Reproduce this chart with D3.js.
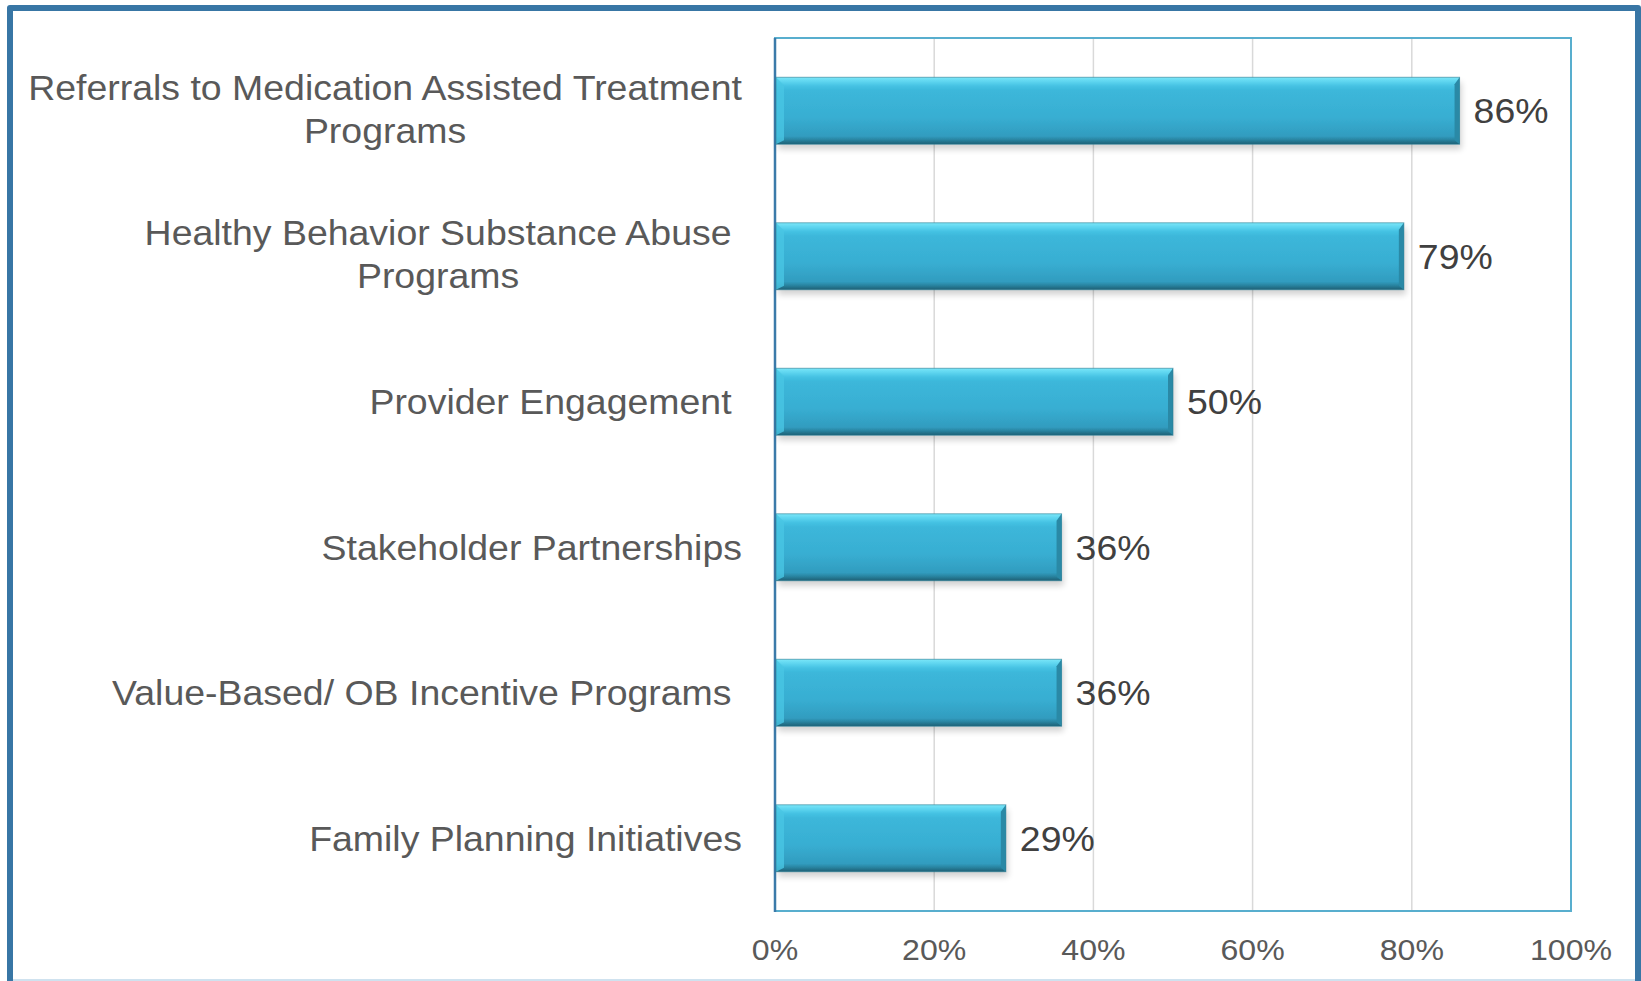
<!DOCTYPE html>
<html><head><meta charset="utf-8">
<script src="https://cdn.jsdelivr.net/npm/d3@7"></script>
<style>
html,body{margin:0;padding:0;background:#fff;}
svg text{font-family:"Liberation Sans",Arial,sans-serif;white-space:pre;}
</style></head>
<body><svg id="c" width="1641" height="981"></svg>
<script>
const categories = [
  ["Referrals to Medication Assisted Treatment", "Programs"],
  ["Healthy Behavior Substance Abuse ", "Programs "],
  ["Provider Engagement "],
  ["Stakeholder Partnerships"],
  ["Value-Based/ OB Incentive Programs "],
  ["Family Planning Initiatives"]
];
const values = [0.86, 0.79, 0.50, 0.36, 0.36, 0.29];
const valueLabels = ["86%", "79%", "50%", "36%", "36%", "29%"];
const ticks = [0, 0.2, 0.4, 0.6, 0.8, 1.0];
const tickLabels = ["0%", "20%", "40%", "60%", "80%", "100%"];

const SX = 1.07; // horizontal text stretch seen in the reference
const svg = d3.select("#c");
const L = 775, R = 1571, T = 38, B = 911;
const x = d3.scaleLinear().domain([0, 1]).range([L, R]);
const y = d3.scaleBand().domain(d3.range(categories.length)).range([T, B]).paddingInner(0.54).paddingOuter(0.27);

// outer frame
svg.append("path").attr("d", `M10,990 L10,8 L1638,8 L1638,990`).attr("fill","none").attr("stroke","#3876a5").attr("stroke-width",6).attr("stroke-linejoin","round");
svg.append("line").attr("x1",13).attr("x2",1635).attr("y1",980).attr("y2",980).attr("stroke","#cfe2ef").attr("stroke-width",2);

const defs = svg.append("defs");
const g = defs.append("linearGradient").attr("id","barg").attr("x1",0).attr("x2",0).attr("y1",0).attr("y2",1);
[[0,"#7be6f8"],[0.06,"#5fd6f0"],[0.13,"#45c2e3"],[0.2,"#3cb7da"],[0.6,"#38aed2"],[0.88,"#319cbf"],[0.93,"#2a86a3"],[1,"#1d5f74"]]
  .forEach(([o,c])=>g.append("stop").attr("offset",o).attr("stop-color",c));
const f = defs.append("filter").attr("id","sh").attr("x","-5%").attr("y","-20%").attr("width","110%").attr("height","160%");
f.append("feGaussianBlur").attr("in","SourceAlpha").attr("stdDeviation",3);
f.append("feOffset").attr("dx",2).attr("dy",5).attr("result","b");
f.append("feComponentTransfer").append("feFuncA").attr("type","linear").attr("slope",0.18);
const fm = f.append("feMerge"); fm.append("feMergeNode"); fm.append("feMergeNode").attr("in","SourceGraphic");

// gridlines
svg.append("g").selectAll("line").data(ticks.slice(1,-1)).join("line")
  .attr("x1",d=>x(d)).attr("x2",d=>x(d)).attr("y1",T).attr("y2",B)
  .attr("stroke","#d9d9d9").attr("stroke-width",1.5);

// plot border
svg.append("rect").attr("x",L).attr("y",T).attr("width",R-L).attr("height",B-T)
  .attr("fill","none").attr("stroke","#58aece").attr("stroke-width",2);
svg.append("line").attr("x1",L).attr("x2",L).attr("y1",T).attr("y2",B+1).attr("stroke","#3b7aa9").attr("stroke-width",2.5);

// bars
const bars = svg.append("g").selectAll("g").data(values).join("g");
bars.append("rect").attr("x",L+1).attr("y",(d,i)=>y(i)).attr("width",d=>x(d)-L-1).attr("height",y.bandwidth())
  .attr("fill","url(#barg)").attr("filter","url(#sh)");
bars.append("path").attr("d",(d,i)=>{const y0=y(i),h=y.bandwidth(),x0=L+1;return `M${x0},${y0} L${x0+8},${y0+8} L${x0+8},${y0+h-4} L${x0},${y0+h} Z`;})
  .attr("fill","#49c5e4").attr("opacity",0.8);
bars.append("path").attr("d",(d,i)=>{const y0=y(i),h=y.bandwidth(),x1=x(d);return `M${x1},${y0} L${x1-5},${y0+7} L${x1-5},${y0+h-4} L${x1},${y0+h} Z`;})
  .attr("fill","#2a89a6");
bars.append("rect").attr("x",L+1).attr("y",(d,i)=>y(i)).attr("width",d=>x(d)-L-1).attr("height",y.bandwidth())
  .attr("fill","none").attr("stroke","#2a7d95").attr("stroke-width",1).attr("stroke-opacity",0.6);

// value labels
svg.append("g").selectAll("text").data(values).join("text")
  .attr("transform",(d,i)=>`translate(${x(d)+14},${y(i)+y.bandwidth()/2}) scale(${SX},1)`).attr("dy","0.36em")
  .attr("font-size",35).attr("fill","#404040").text((d,i)=>valueLabels[i]);

// category labels
const labelRight = 742, lineH = 43;
categories.forEach((lines,i)=>{
  const cy = y(i)+y.bandwidth()/2 - (lines.length>1?2:0);
  const grp = svg.append("g");
  const ts = grp.selectAll("text").data(lines).join("text")
    .attr("font-size",35).attr("fill","#595959").attr("text-anchor","middle").attr("dy","0.36em").text(d=>d);
  let maxW = 0; ts.each(function(){maxW=Math.max(maxW,this.getComputedTextLength()*SX);});
  ts.attr("transform",(d,j)=>`translate(${labelRight - maxW/2},${cy + (j-(lines.length-1)/2)*lineH}) scale(${SX},1)`);
});

// tick labels
svg.append("g").selectAll("text").data(ticks).join("text")
  .attr("transform",d=>`translate(${x(d)},949) scale(${SX},1)`).attr("dy","0.36em").attr("text-anchor","middle")
  .attr("font-size",30).attr("fill","#595959").text((d,i)=>tickLabels[i]);
</script></body></html>
